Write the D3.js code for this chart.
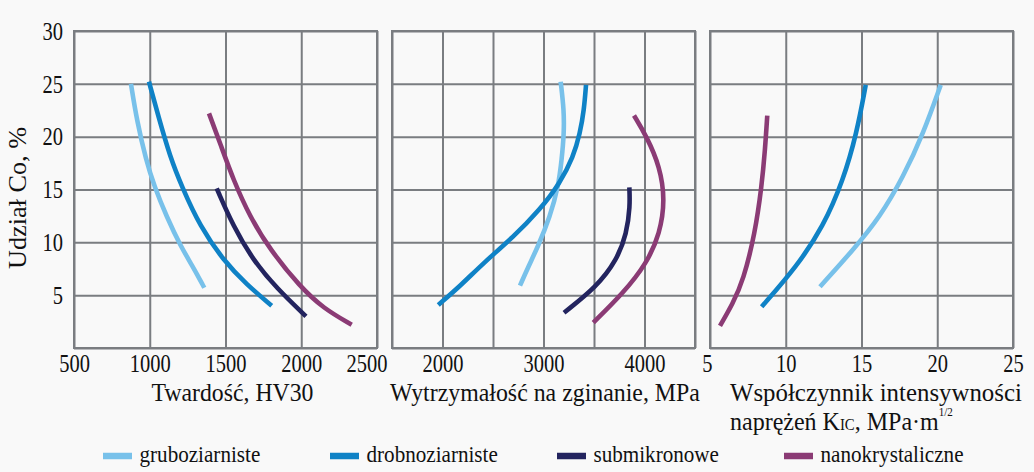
<!DOCTYPE html>
<html><head><meta charset="utf-8">
<script src="https://cdn.jsdelivr.net/npm/d3@7"></script>
<style>
html,body{margin:0;padding:0;background:#f9f9f9;}
svg{display:block;}
svg text{font-family:'Liberation Serif','Times New Roman',Times,serif;fill:#111;}
</style></head><body>
<svg id="c" width="1034" height="472" font-family="Liberation Serif"></svg>
<script>
// ---------- data ----------
const coGrid = [0, 5, 10, 15, 20, 25, 30];
const coLabels = [5, 10, 15, 20, 25, 30];
const hvTicks = [500, 1000, 1500, 2000, 2500];
const trsGrid = [1500, 2000, 2500, 3000, 3500, 4000, 4500];
const trsLabels = [2000, 3000, 4000];
const kicTicks = [5, 10, 15, 20, 25];

const seriesNames = ["gruboziarniste", "drobnoziarniste", "submikronowe", "nanokrystaliczne"];
const seriesColors = ["#78c1ea", "#0f82c6", "#23245f", "#8b3b75"];

// points: [property value, Co %]
const hvGrubo = [[876,25],[914,21.6],[975,17.8],[1030,15.3],[1112,12.4],[1205,9.6],[1285,7.7],[1360,5.7]];
const hvDrobno = [[995,25.2],[1057,21.9],[1134,18.1],[1211,15.3],[1332,11.5],[1486,8.3],[1640,6.0],[1805,4.0]];
const hvSub = [[1442,15.1],[1552,11.5],[1683,8.3],[1838,5.65],[2031,3.0]];
const hvNano = [[1391,22.2],[1464,19.4],[1552,15.9],[1662,12.4],[1794,9.3],[1992,5.8],[2146,3.75],[2333,2.2]];

const trsGrubo = [[3170,25.2],[3203,22.5],[3203,20.3],[3180,17.8],[3147,15.3],[3064,12.4],[2945,9.6],[2850,7.7],[2767,5.9]];
const trsDrobno = [[3421,24.9],[3401,22.5],[3361,20.3],[3295,18.1],[3163,15.6],[2965,13.1],[2701,10.5],[2400,8.0],[2190,6.0],[1958,4.07]];
const trsSub = [[3850,15.2],[3857,13.4],[3824,10.85],[3725,8.3],[3527,5.8],[3203,3.34]];
const trsNano = [[3896,22.0],[4022,20.0],[4153,17.15],[4203,14.0],[4153,10.85],[4022,8.0],[3790,5.2],[3493,2.4]];

const kicGrubo = [[20.23,24.9],[19.08,20.3],[17.76,16.2],[16.22,12.4],[14.46,9.3],[12.26,5.8]];
const kicDrobno = [[15.28,24.9],[14.68,20.3],[13.8,15.9],[12.48,11.5],[10.72,7.7],[8.41,3.9]];
const kicNano = [[8.78,22.0],[8.63,18.7],[8.41,15.3],[7.97,10.85],[7.2,6.4],[6.5,4.2],[5.66,2.1]];

const yTitle = "Udział Co, %";
const xTitles = ["Twardość, HV30", "Wytrzymałość na zginanie, MPa", "Współczynnik intensywności"];

// ---------- layout ----------
const FONT = "'Liberation Serif','Times New Roman',Times,serif";
const svg = d3.select("#c");
const yTop = 31, yBottom = 348;
const y = d3.scaleLinear().domain([0, 30]).range([yBottom, yTop]);
const gridColor = "#7a7d81";

const panels = [
  { x: d3.scaleLinear().domain([500, 2500]).range([74, 377]), grid: hvTicks, labels: hvTicks,
    series: [[hvGrubo,0],[hvDrobno,1],[hvSub,2],[hvNano,3]] },
  { x: d3.scaleLinear().domain([1500, 4500]).range([392, 695]), grid: trsGrid, labels: trsLabels,
    series: [[trsGrubo,0],[trsDrobno,1],[trsSub,2],[trsNano,3]] },
  { x: d3.scaleLinear().domain([5, 25]).range([710, 1013]), grid: kicTicks, labels: kicTicks,
    series: [[kicGrubo,0],[kicDrobno,1],[kicNano,3]] }
];

const tickScale = 0.82;

panels.forEach((p, pi) => {
  const [x0, x1] = p.x.range();
  const gv = svg.append("g").attr("transform", `translate(0,${yBottom})`)
    .call(d3.axisBottom(p.x).tickValues(p.grid).tickSize(-(yBottom - yTop)).tickFormat(""));
  gv.select(".domain").remove();
  gv.selectAll("line").attr("stroke", gridColor).attr("stroke-width", 2);
  const gh = svg.append("g").attr("transform", `translate(${x0},0)`)
    .call(d3.axisLeft(y).tickValues(coGrid).tickSize(-(x1 - x0)).tickFormat(""));
  gh.select(".domain").remove();
  gh.selectAll("line").attr("stroke", gridColor).attr("stroke-width", 2);
  svg.append("rect").attr("x", x0).attr("y", yTop).attr("width", x1 - x0).attr("height", yBottom - yTop)
    .attr("fill", "none").attr("stroke", gridColor).attr("stroke-width", 2);

  const ax = svg.append("g").attr("transform", `translate(0,${yBottom})`)
    .call(d3.axisBottom(p.x).tickValues(p.labels).tickSize(0).tickPadding(6).tickFormat(d3.format("d")));
  ax.select(".domain").remove();
  ax.attr("font-family", FONT).attr("font-size", 25);
  ax.selectAll("text").attr("fill", "#111").attr("transform", `scale(${tickScale},1)`);
  if (pi === 0) {
    ax.selectAll("text").filter(d => d === 2500).attr("text-anchor", "end").attr("x", 10 / tickScale);
  }
  if (pi === 2) {
    ax.selectAll("text").filter(d => d === 5).attr("x", -3 / tickScale);
  }

  const line = d3.line().x(d => p.x(d[0])).y(d => y(d[1])).curve(d3.curveBasis);
  p.series.forEach(([data, si]) => {
    svg.append("path").datum(data).attr("d", line)
      .attr("fill", "none").attr("stroke", seriesColors[si]).attr("stroke-width", 4.6)
      .attr("stroke-linecap", "butt");
  });
});

const ay = svg.append("g").attr("transform", `translate(74,0)`)
  .call(d3.axisLeft(y).tickValues(coLabels).tickSize(0).tickPadding(11));
ay.select(".domain").remove();
ay.attr("font-family", FONT).attr("font-size", 25);
ay.selectAll("text").attr("fill", "#111")
  .attr("x", -11 / tickScale).attr("dy", "0.33em").attr("transform", `scale(${tickScale},1)`);

function fit(t, w) {
  const L = t.node().getComputedTextLength();
  t.attr("transform", t.attr("data-base") + ` scale(${w / L},1)`);
}

const yt = svg.append("text").attr("font-family", FONT).attr("text-anchor", "middle").attr("font-size", 25)
  .attr("data-base", "translate(26,198) rotate(-90)").text(yTitle);
fit(yt, 142);

const t1 = svg.append("text").attr("font-family", FONT).attr("text-anchor", "middle").attr("font-size", 26)
  .attr("data-base", "translate(232.5,401)").text(xTitles[0]);
fit(t1, 162);
const t2 = svg.append("text").attr("font-family", FONT).attr("text-anchor", "middle").attr("font-size", 26)
  .attr("data-base", "translate(545,401)").text(xTitles[1]);
fit(t2, 310);
const t3 = svg.append("text").attr("font-family", FONT).attr("text-anchor", "start").attr("font-size", 26)
  .attr("data-base", "translate(730,401)").text(xTitles[2]);
fit(t3, 292);
const t4 = svg.append("text").attr("font-family", FONT).attr("text-anchor", "start").attr("font-size", 26)
  .attr("data-base", "translate(730,430)");
t4.append("tspan").text("naprężeń K");
t4.append("tspan").attr("font-size", 16).text("IC");
t4.append("tspan").text(", MPa·m");
t4.append("tspan").attr("font-size", 12).attr("dy", -14).text("1/2");
fit(t4, 223);

seriesNames.forEach((name, i) => {
  const sx = 103 + i * 227;
  svg.append("line").attr("x1", sx).attr("x2", sx + 29).attr("y1", 456).attr("y2", 456)
    .attr("stroke", seriesColors[i]).attr("stroke-width", 6.5);
  svg.append("text").attr("font-family", FONT).attr("font-size", 24)
    .attr("transform", `translate(${sx + 36.5},462) scale(0.88,1)`).text(name);
});
</script>
</body></html>
